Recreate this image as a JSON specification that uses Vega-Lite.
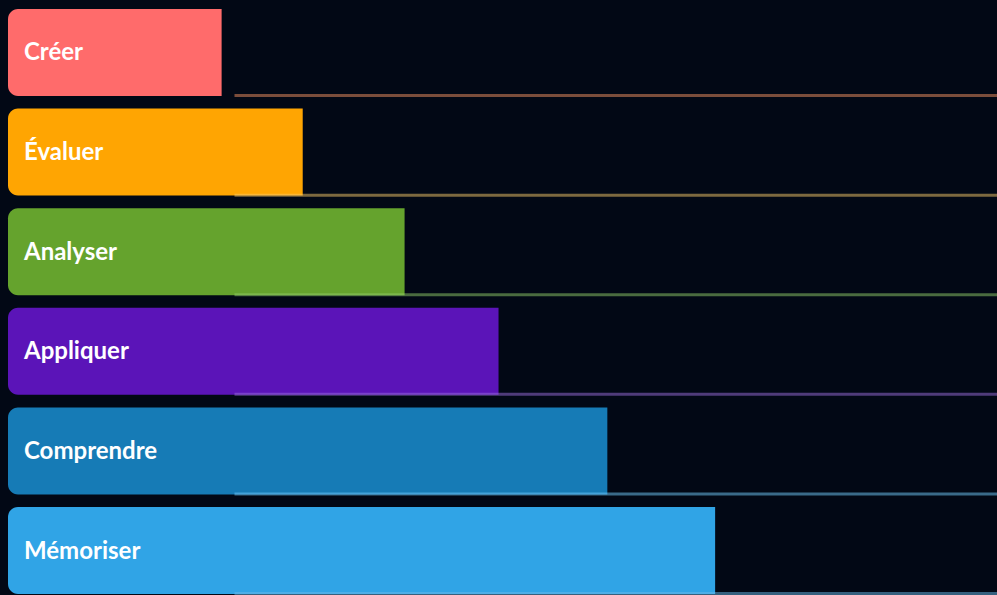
{
  "$schema": "https://vega.github.io/schema/vega-lite/v6.json",
  "width": 997,
  "height": 595,
  "autosize": {"type": "none"},
  "padding": 0,
  "background": "#020815",
  "config": {"view": {"stroke": null}},
  "data": {
    "values": [
      {"niveau": "Créer", "valeur": 21.6},
      {"niveau": "Évaluer", "valeur": 29.8},
      {"niveau": "Analyser", "valeur": 40.1},
      {"niveau": "Appliquer", "valeur": 49.6},
      {"niveau": "Comprendre", "valeur": 60.6},
      {"niveau": "Mémoriser", "valeur": 71.5}
    ]
  },
  "layer": [
    {
      "mark": {"type": "bar", "cornerRadiusTopLeft": 10, "cornerRadiusBottomLeft": 10},
      "encoding": {
        "y": {
          "field": "niveau",
          "type": "nominal",
          "sort": null,
          "axis": null,
          "scale": {"paddingInner": 0.1265, "paddingOuter": 0.05, "align": 0.9}
        },
        "x": {"field": "valeur", "type": "quantitative", "scale": {"domain": [0, 100], "range": [8, 997]}, "axis": null},
        "x2": {"datum": 0},
        "color": {
          "field": "niveau",
          "type": "nominal",
          "legend": null,
          "scale": {
            "domain": ["Créer", "Évaluer", "Analyser", "Appliquer", "Comprendre", "Mémoriser"],
            "range": ["#ff6b6b", "#ffa502", "#65a32d", "#5b14b8", "#167bb6", "#30a4e6"]
          }
        }
      }
    },
    {
      "mark": {"type": "rule", "strokeWidth": 3, "opacity": 0.5},
      "encoding": {
        "y": {"field": "niveau", "type": "nominal", "sort": null, "bandPosition": 0.995, "axis": null},
        "x": {"datum": 22.9, "type": "quantitative"},
        "x2": {"datum": 100},
        "color": {
          "field": "niveau",
          "type": "nominal",
          "legend": null,
          "scale": {
            "domain": ["Créer", "Évaluer", "Analyser", "Appliquer", "Comprendre", "Mémoriser"],
            "range": ["#f49262", "#f8ca6a", "#92ce6a", "#9c6ede", "#72ccfe", "#6ab8e8"]
          }
        }
      }
    },
    {
      "mark": {"type": "text", "align": "left", "baseline": "middle", "dx": 16, "dy": 1, "font": "Lato", "fontWeight": "bold", "fontSize": 24, "color": "#ffffff"},
      "encoding": {
        "y": {"field": "niveau", "type": "nominal", "sort": null, "axis": null},
        "x": {"datum": 0, "type": "quantitative"},
        "text": {"field": "niveau"}
      }
    }
  ],
  "resolve": {"scale": {"color": "independent"}}
}
